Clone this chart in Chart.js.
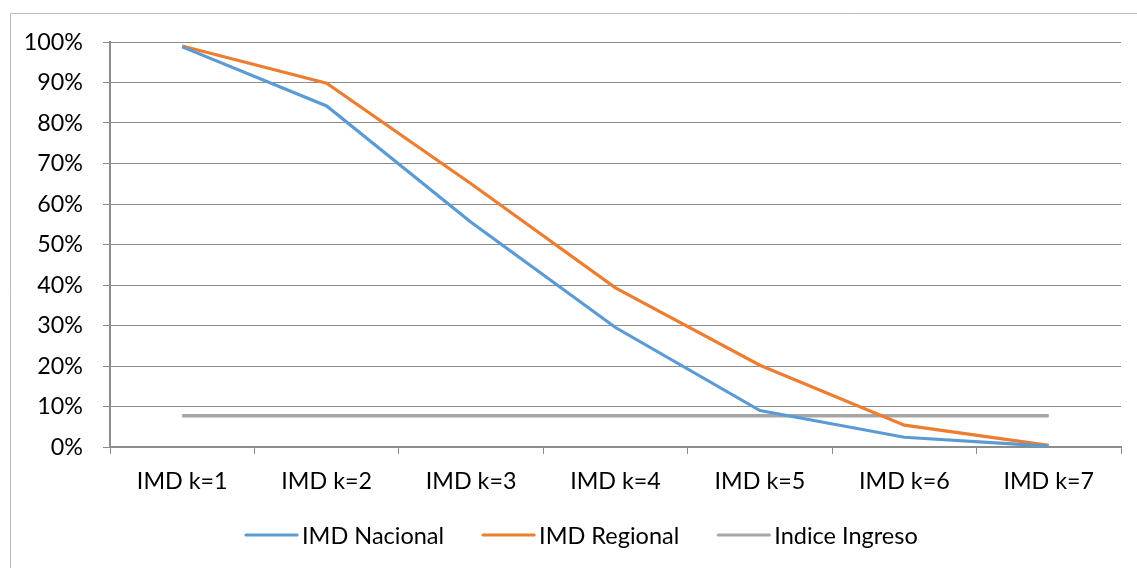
<!DOCTYPE html>
<html>
<head>
<meta charset="utf-8">
<script src="https://cdn.jsdelivr.net/npm/chart.js@4.4.1/dist/chart.umd.min.js"></script>
<style>
  html, body { margin: 0; padding: 0; background: #ffffff; }
  #wrap { position: relative; width: 1137px; height: 568px; }
</style>
</head>
<body>
<div id="wrap"><canvas id="chart" width="1137" height="568"></canvas></div>
<script>
// Categories along the x axis
const categories = ['IMD k=1', 'IMD k=2', 'IMD k=3', 'IMD k=4', 'IMD k=5', 'IMD k=6', 'IMD k=7'];

// Series values (share, 0..1)
const imdNacional = [0.988, 0.842, 0.555, 0.295, 0.090, 0.024, 0.002];
const imdRegional = [0.990, 0.898, 0.650, 0.393, 0.202, 0.054, 0.004];
const indiceIngreso = [0.077, 0.077, 0.077, 0.077, 0.077, 0.077, 0.077];

// Y tick values
const yTicks = [0, 0.1, 0.2, 0.3, 0.4, 0.5, 0.6, 0.7, 0.8, 0.9, 1.0];

const FONT = 'Lato';
const FONT_SIZE = 23.3;

// Frame around the chart (left and top edges visible)
const framePlugin = {
  id: 'frame',
  beforeDraw(chart) {
    const ctx = chart.ctx;
    ctx.save();
    ctx.fillStyle = '#ffffff';
    ctx.fillRect(0, 0, chart.width, chart.height);
    ctx.strokeStyle = '#bcbcbc';
    ctx.lineWidth = 1;
    ctx.beginPath();
    ctx.moveTo(10.5, chart.height);
    ctx.lineTo(10.5, 13.5);
    ctx.lineTo(chart.width, 13.5);
    ctx.stroke();
    ctx.restore();
  }
};

// Legend with line samples drawn below the axis
const lineLegend = {
  id: 'lineLegend',
  afterDraw(chart) {
    const ctx = chart.ctx;
    const sample = 53, gap = 4, itemGap = 38;
    ctx.save();
    ctx.font = '23.5px ' + FONT;
    ctx.textBaseline = 'middle';
    let x = 245;
    const y = 535;
    chart.data.datasets.forEach(ds => {
      const w = sample + gap + ctx.measureText(ds.label).width;
      ctx.strokeStyle = ds.borderColor;
      ctx.lineWidth = 3.2;
      ctx.lineCap = 'round';
      ctx.beginPath();
      ctx.moveTo(x + 1, y);
      ctx.lineTo(x + sample - 1, y);
      ctx.stroke();
      ctx.fillStyle = '#000000';
      ctx.textAlign = 'left';
      ctx.fillText(ds.label, x + sample + gap, y + 1);
      x += w + itemGap;
    });
    ctx.restore();
  }
};

const mkLine = (label, data, color, width) => ({
  label, data,
  borderColor: color,
  backgroundColor: color,
  borderWidth: width,
  pointRadius: 0,
  pointHoverRadius: 0,
  tension: 0,
  fill: false
});

new Chart(document.getElementById('chart'), {
  type: 'line',
  data: {
    labels: categories,
    datasets: [
      mkLine('IMD Nacional', imdNacional, '#5B9BD5', 3.2),
      mkLine('IMD Regional', imdRegional, '#ED7D31', 3.2),
      mkLine('Indice Ingreso', indiceIngreso, '#A5A5A5', 3.4)
    ]
  },
  options: {
    responsive: false,
    animation: false,
    events: [],
    layout: { padding: { top: 42, right: 16, left: 0, bottom: 0 } },
    plugins: {
      legend: { display: false },
      tooltip: { enabled: false }
    },
    scales: {
      x: {
        type: 'category',
        offset: true,
        afterFit(scale) { scale.height = 121; },
        grid: {
          offset: true,
          drawOnChartArea: false,
          drawTicks: true,
          tickLength: 7,
          color: '#8c8c8c',
          lineWidth: 1
        },
        border: { display: true, color: '#8c8c8c', width: 2 },
        ticks: {
          color: '#000000',
          font: { family: FONT, size: FONT_SIZE },
          padding: 13,
          maxRotation: 0,
          autoSkip: false
        }
      },
      y: {
        min: 0,
        max: 1,
        afterFit(scale) { scale.width = 110; },
        afterBuildTicks(scale) { scale.ticks = yTicks.map(v => ({ value: v })); },
        grid: {
          color: '#8c8c8c',
          lineWidth: 1,
          drawTicks: true,
          tickLength: 7
        },
        border: { display: true, color: '#8c8c8c', width: 2 },
        ticks: {
          color: '#000000',
          font: { family: FONT, size: FONT_SIZE },
          padding: 20,
          callback: v => Math.round(v * 100) + '%'
        }
      }
    }
  },
  plugins: [framePlugin, lineLegend]
});
</script>
</body>
</html>
